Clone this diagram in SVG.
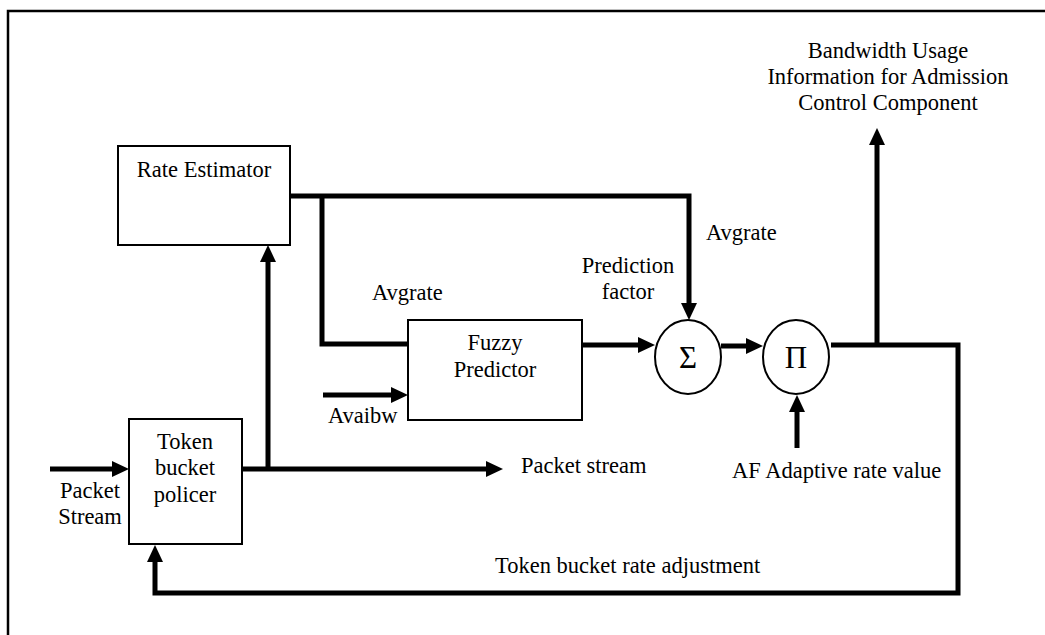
<svg xmlns="http://www.w3.org/2000/svg" width="1045" height="635" viewBox="0 0 1045 635">
<defs>
<style>
.t{font-family:"Liberation Serif","Times New Roman",serif;font-size:22.5px;fill:#000}
.c{text-anchor:middle}
.box{fill:#fff;stroke:#000;stroke-width:2}
.w{fill:none;stroke:#000;stroke-width:5;stroke-linejoin:miter}
.sym{font-family:"Liberation Serif","Times New Roman",serif;font-size:31px;text-anchor:middle}
</style>
<marker id="ah" markerUnits="userSpaceOnUse" markerWidth="18" markerHeight="17" refX="8" refY="8" orient="auto">
<path d="M0,0 L17,8 L0,16 z" fill="#000"/>
</marker>
</defs>
<rect width="1045" height="635" fill="#fff"/>
<path d="M8,635 V11 H1045" fill="none" stroke="#000" stroke-width="2.5"/>

<g id="connectors">
<path class="w" d="M290,196 H689 V311" marker-end="url(#ah)"/>
<path class="w" d="M322,196 V344 H408"/>
<path class="w" d="M582,345 H646" marker-end="url(#ah)"/>
<path class="w" d="M721,346 H754" marker-end="url(#ah)"/>
<path class="w" d="M831,345 H958 V593 H155 V554" marker-end="url(#ah)"/>
<path class="w" d="M877,345 V137" marker-end="url(#ah)"/>
<path class="w" d="M797,448 V404" marker-end="url(#ah)"/>
<path class="w" d="M50,469 H120" marker-end="url(#ah)"/>
<path class="w" d="M242,469 H494" marker-end="url(#ah)"/>
<path class="w" d="M268,469 V254" marker-end="url(#ah)"/>
<path class="w" d="M323,395 H399" marker-end="url(#ah)"/>
</g>

<g id="rate-estimator">
<rect class="box" x="118" y="146" width="172" height="99"/>
<text class="t c" x="204" y="177">Rate Estimator</text>
</g>
<g id="fuzzy-predictor">
<rect class="box" x="408" y="320" width="174" height="100"/>
<text class="t c" x="495" y="350">Fuzzy</text>
<text class="t c" x="495" y="377">Predictor</text>
</g>
<g id="token-bucket">
<rect class="box" x="129" y="419" width="113" height="125"/>
<text class="t c" x="185" y="449">Token</text>
<text class="t c" x="185" y="475">bucket</text>
<text class="t c" x="185" y="502">policer</text>
</g>
<g id="sum">
<ellipse class="box" cx="688" cy="357" rx="33" ry="37"/>
<text class="sym" x="688" y="368">Σ</text>
</g>
<g id="product">
<ellipse class="box" cx="796" cy="357" rx="33" ry="37"/>
<text class="sym" x="796" y="368">Π</text>
</g>

<g id="labels">
<text class="t c" x="90" y="498">Packet</text>
<text class="t c" x="90" y="524">Stream</text>
<text class="t" x="521" y="473">Packet stream</text>
<text class="t" x="328" y="423">Avaibw</text>
<text class="t" x="372" y="300">Avgrate</text>
<text class="t c" x="628" y="273">Prediction</text>
<text class="t c" x="628" y="299">factor</text>
<text class="t" x="706" y="240">Avgrate</text>
<text class="t c" x="888" y="58">Bandwidth Usage</text>
<text class="t c" x="888" y="84">Information for Admission</text>
<text class="t c" x="888" y="110">Control Component</text>
<text class="t" x="732" y="478">AF Adaptive rate value</text>
<text class="t" x="495" y="573">Token bucket rate adjustment</text>
</g>
</svg>
